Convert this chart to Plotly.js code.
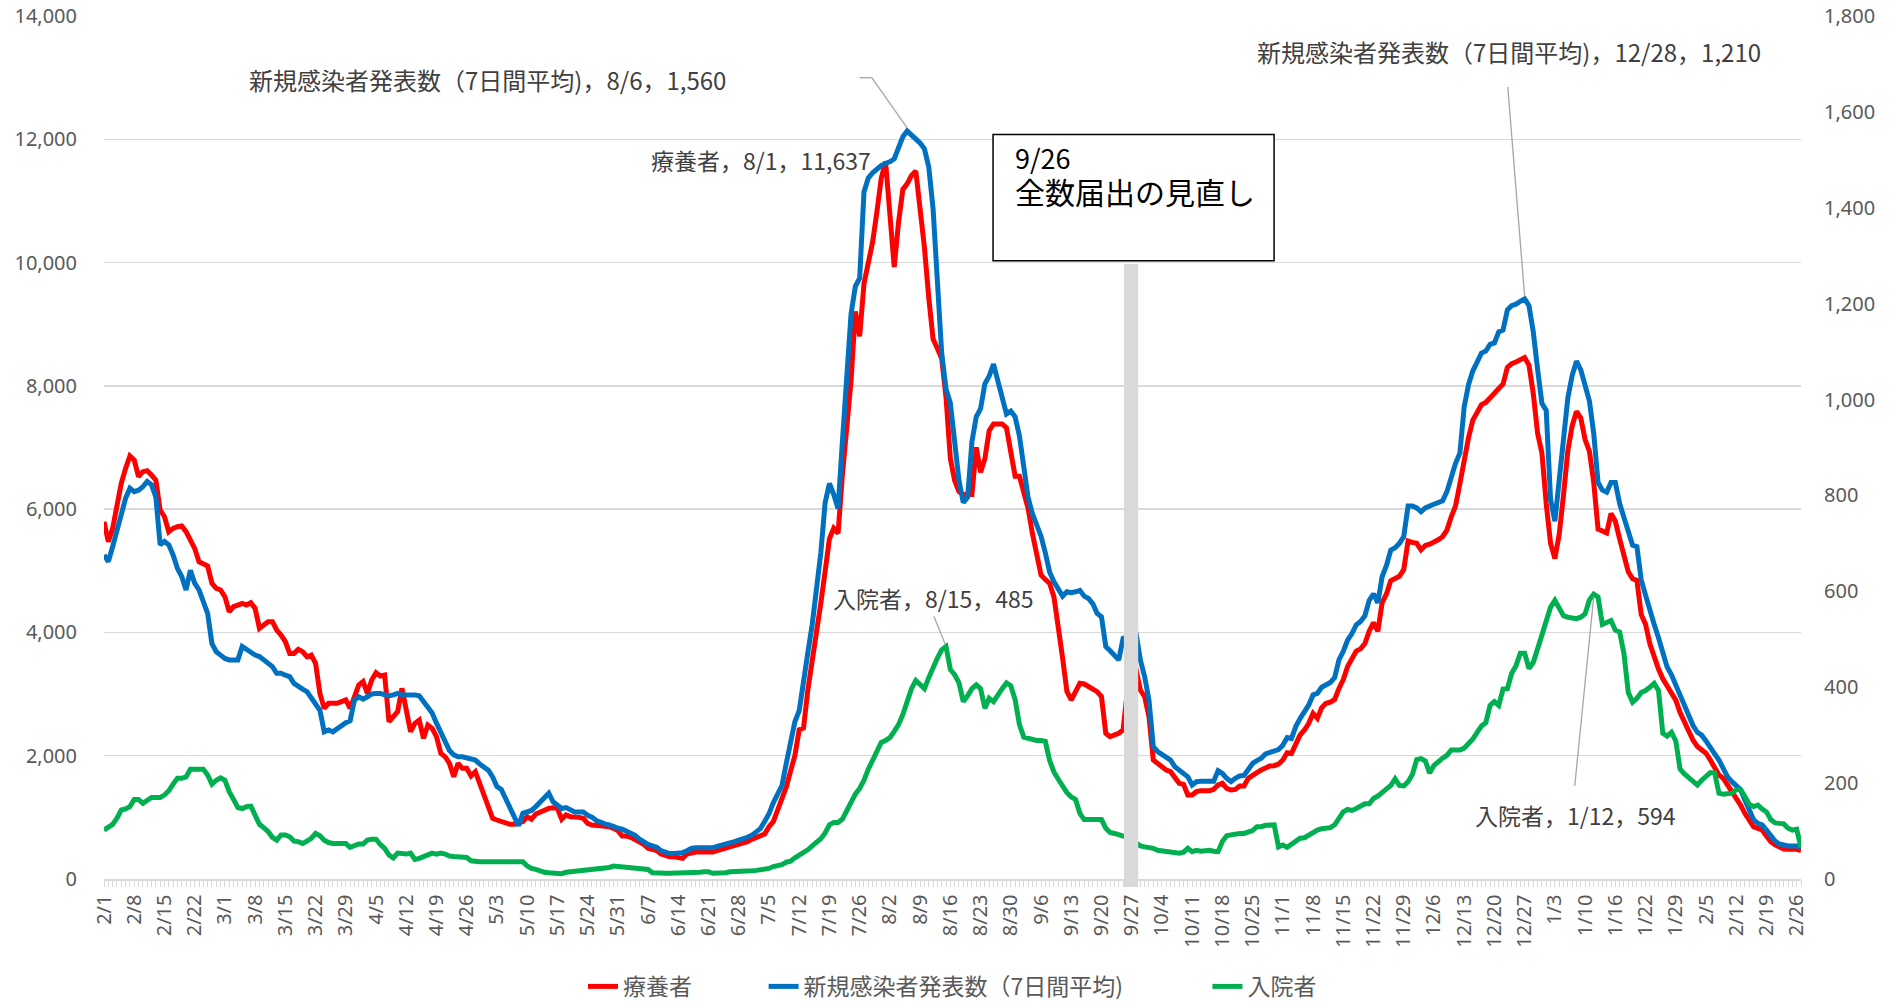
<!DOCTYPE html>
<html><head><meta charset="utf-8">
<script src="https://cdn.plot.ly/plotly-3.0.1.min.js"></script>
<style>html,body{margin:0;padding:0;background:#fff}#chart{width:1902px;height:1004px}</style>
</head><body><div id="chart"></div>
<script>
// X tick labels (every 7th category)
const tickLabels = ["2/1","2/8","2/15","2/22","3/1","3/8","3/15","3/22","3/29","4/5","4/12","4/19","4/26","5/3","5/10","5/17","5/24","5/31","6/7","6/14","6/21","6/28","7/5","7/12","7/19","7/26","8/2","8/9","8/16","8/23","8/30","9/6","9/13","9/20","9/27","10/4","10/11","10/18","10/25","11/1","11/8","11/15","11/22","11/29","12/6","12/13","12/20","12/27","1/3","1/10","1/16","1/22","1/29","2/5","2/12","2/19","2/26"];

// 療養者 (left axis)
const ryoyosha = [
5796,5472,5688,6040,6418,6661,6862,6797,6526,6607,
6624,6553,6472,5986,5877,5634,5688,5715,5726,5634,
5499,5364,5147,5120,5077,4796,4715,4688,4580,4336,
4417,4444,4472,4444,4482,4390,4066,4120,4174,4174,
4039,3958,3850,3660,3660,3725,3688,3606,3633,3498,
3012,2768,2850,2850,2850,2877,2904,2768,2985,3147,
3201,3012,3228,3347,3293,3309,2552,2633,2714,3093,
2768,2390,2525,2579,2282,2498,2444,2309,2038,1984,
1876,1660,1876,1795,1795,1671,1741,1552,1363,1146,
984,957,930,914,887,887,914,930,1011,968,
1054,1092,1119,1146,1157,1146,968,1038,1011,1011,
1000,984,903,876,876,862,855,849,822,784,
697,697,676,643,606,562,497,470,460,406,
373,362,362,346,335,406,427,438,443,443,
443,438,460,481,508,524,552,568,579,606,
643,676,697,730,849,930,1119,1280,1490,1750,
2005,2420,2450,3070,3510,3990,4470,4990,5520,5690,
5608,6553,7318,8083,9208,8803,9658,9973,10333,10828,
11368,11637,10783,9928,10648,11188,11278,11413,11485,10873,
10243,9433,8758,8605,8443,7813,6823,6463,6283,6238,
6238,6238,7003,6598,6823,7273,7381,7381,7381,7318,
6958,6535,6535,6283,6013,5608,5248,4932,4860,4797,
4572,4122,3582,3042,2904,3039,3174,3163,3120,3077,
3039,2958,2363,2309,2336,2363,2417,3000,3700,3400,
3066,2958,2633,1930,1876,1822,1768,1741,1633,1552,
1536,1363,1363,1417,1433,1433,1433,1454,1525,1552,
1471,1444,1454,1509,1509,1633,1687,1725,1768,1811,
1833,1838,1865,1930,2049,2038,2201,2336,2417,2525,
2687,2606,2780,2850,2870,2912,3091,3234,3448,3555,
3697,3733,3819,4019,4161,4019,4483,4625,4840,4875,
4911,5018,5482,5461,5446,5339,5411,5432,5461,5503,
5553,5660,5875,6053,6410,6838,7159,7445,7552,7695,
7730,7802,7873,7944,8030,8301,8359,8387,8430,8459,
8337,7873,7231,6910,6089,5446,5197,5589,6231,6945,
7350,7585,7480,7128,6939,6433,5677,5645,5614,5929,
5803,5519,5267,4983,4870,4845,4289,4132,3816,3595,
3406,3248,3122,2996,2901,2700,2540,2400,2250,2150,
2090,2040,1930,1800,1687,1633,1525,1444,1336,1200,
1065,941,849,822,795,698,606,552,509,487,
481,481,481,460];

// 新規感染者発表数（7日間平均) (right axis)
const shinki = [
676,662,693,728,756,794,815,808,811,818,
829,822,797,697,704,697,676,648,631,603,
644,617,603,578,554,491,474,467,460,457,
457,457,485,478,471,467,464,457,450,443,
429,429,425,422,408,401,396,391,377,366,
352,307,311,307,314,321,326,330,373,380,
375,380,386,387,387,384,382,384,387,384,
384,386,384,382,370,356,346,325,305,286,
268,259,255,255,252,250,248,240,233,227,
213,193,187,168,144,124,111,137,140,143,
151,161,170,179,161,154,147,149,143,140,
140,140,133,129,122,118,115,113,109,106,
104,99,94,91,83,76,72,69,66,59,
56,53,53,53,55,59,64,65,65,65,
65,65,68,70,72,74,78,81,83,87,
91,97,105,120,136,159,180,195,241,287,
328,351,420,472,530,599,680,785,825,802,
773,912,1051,1178,1236,1253,1433,1462,1473,1481,
1488,1493,1496,1502,1525,1548,1560,1552,1543,1535,
1523,1485,1398,1248,1097,1022,993,912,831,785,
796,912,964,981,1033,1049,1074,1039,1005,970,
976,964,924,866,796,762,738,715,680,640,
620,605,590,599,597,599,602,590,585,574,
554,547,485,476,467,457,502,505,515,512,
457,422,373,276,266,259,254,248,234,227,
222,213,196,203,204,204,204,204,226,220,
210,203,210,215,216,231,241,247,252,261,
264,268,270,279,295,293,318,335,349,363,
384,387,400,406,410,420,457,475,498,512,
530,537,549,581,595,576,631,654,686,691,
700,714,778,778,774,766,774,778,781,785,
789,808,842,867,888,985,1031,1060,1078,1097,
1101,1115,1118,1141,1145,1187,1196,1199,1205,1210,
1196,1141,1063,992,977,792,746,829,902,1003,
1050,1080,1062,1030,997,929,827,811,807,827,
827,783,754,722,696,693,624,592,559,531,
503,470,442,426,405,381,361,341,320,306,
300,288,272,261,248,231,213,203,196,186,
165,144,124,116,113,102,90,79,73,70,
69,69,69,66];

// 入院者 (right axis)
const nyuin = [
102,107,114,127,144,146,151,166,166,158,
165,170,170,170,175,184,198,210,210,213,
229,229,229,229,217,198,206,211,206,182,
166,149,147,151,152,133,114,107,99,87,
81,92,92,88,79,78,74,79,85,95,
90,81,76,74,74,74,74,66,69,73,
73,81,83,83,72,64,50,44,54,52,
52,54,41,43,47,50,54,52,54,52,
48,47,47,47,45,38,36,36,36,36,
36,36,36,36,36,36,36,36,27,22,
20,16,14,13,12,11,11,14,15,15,
15,17,19,19,20,21,23,24,27,26,
24,24,24,23,22,21,20,13,12,12,
12,12,12,12,12,12,13,13,14,15,
15,12,12,12,13,15,15,16,16,17,
17,18,19,19,22,26,28,30,35,37,
44,49,56,61,69,76,84,96,113,118,
118,125,142,162,177,189,206,229,247,266,
285,289,295,308,322,343,370,397,414,407,
397,420,443,461,478,485,437,426,409,370,
382,397,405,397,356,377,370,385,397,409,
403,374,322,296,293,290,289,289,287,247,
223,208,194,180,171,166,137,124,124,124,
124,124,106,97,95,92,90,87,81,74,
69,67,66,64,60,59,58,56,54,54,
56,64,57,60,58,59,60,58,57,78,
90,92,94,95,95,98,101,109,109,112,
113,113,67,71,66,73,81,85,86,92,
99,102,105,106,107,113,127,140,145,143,
147,151,157,157,168,173,182,188,195,209,
195,194,203,218,249,251,246,221,237,246,
252,258,269,269,269,273,282,292,306,319,
326,362,370,362,396,397,429,445,471,471,
439,452,480,512,544,567,581,567,549,546,
545,543,546,553,582,594,588,531,535,539,
519,515,470,389,369,377,389,393,400,408,
393,304,298,306,288,229,219,212,203,196,
206,215,222,221,179,177,179,179,186,187,
172,156,151,154,146,140,124,117,116,115,
106,102,104,66];

const seriesNames = ["療養者", "新規感染者発表数（7日間平均)", "入院者"];
const seriesColors = ["#ff0000", "#0070c0", "#00b050"];
// extra legend spacing (ideographic / no-break spaces) to match the original legend gaps
const legendPad = ["\u3000\u3000\u00a0\u00a0\u00a0\u00a0", "\u3000\u3000\u3000\u00a0\u00a0", ""];

const xIdx = ryoyosha.map((_, i) => i);
const tickVals = tickLabels.map((_, k) => k * 7);
const lastIdx = ryoyosha.length - 1;

const JP = "Noto Sans CJK JP";
const NUM = "Noto Sans";

const seriesData = [ryoyosha, shinki, nyuin];
const seriesAxis = ["y", "y2", "y2"];
const traces = seriesData.map((d, k) => ({
  x: xIdx, y: d, name: seriesNames[k] + legendPad[k], type: "scatter", mode: "lines",
  line: {color: seriesColors[k], width: 5}, yaxis: seriesAxis[k]
}));

// right-axis value -> left-axis coordinate
const r2l = v => v * 14000 / 1800;

const annFont = {family: JP, size: 23, color: "#404040"};
const annFontL = {family: JP, size: 24, color: "#404040"};
const annotations = [
  {xref: "x", yref: "y", x: 144.4, y: 12978, xanchor: "right", yanchor: "middle",
   text: "新規感染者発表数（7日間平均)，8/6，1,560", showarrow: false, font: annFontL},
  {xref: "x", yref: "y", x: 178, y: 11664, xanchor: "right", yanchor: "middle",
   text: "療養者，8/1，11,637", showarrow: false, font: annFont},
  {xref: "x", yref: "y", x: 192.2, y: 4558, xanchor: "center", yanchor: "middle",
   text: "入院者，8/15，485", showarrow: false, font: annFont},
  {xref: "x", yref: "y", x: 325.4, y: 13432, xanchor: "center", yanchor: "middle",
   text: "新規感染者発表数（7日間平均)，12/28，1,210", showarrow: false, font: annFontL},
  {xref: "x", yref: "y", x: 340.8, y: 1038, xanchor: "center", yanchor: "middle",
   text: "入院者，1/12，594", showarrow: false, font: annFont},
  {xref: "paper", yref: "paper", x: 0.5357, y: 0.8155, xanchor: "left", yanchor: "middle",
   align: "left", text: "9/26<br><span style=\"font-size:30px\">全数届出の見直し</span>", showarrow: false,
   font: {family: JP, size: 27, color: "#000000"}}
];

const leader = {color: "#a6a6a6", width: 1.3};
const shapes = [
  // notification change bar
  {type: "rect", xref: "x", yref: "paper", x0: 236.2, x1: 239.5, y0: -0.0093, y1: 0.7126,
   fillcolor: "#d9d9d9", line: {width: 0}, layer: "above"},
  // text box
  {type: "rect", xref: "paper", yref: "paper", x0: 0.5239, x1: 0.6895, y0: 0.7163, y1: 0.8626,
   fillcolor: "#ffffff", line: {color: "#000000", width: 1.5}, layer: "above"},
  // leader lines
  {type: "line", xref: "x", yref: "y", x0: 175.0, y0: 12999, x1: 177.8, y1: 12999, line: leader},
  {type: "line", xref: "x", yref: "y", x0: 177.8, y0: 12999, x1: 186, y1: r2l(1560) + 50, line: leader},
  {type: "line", xref: "x", yref: "y", x0: 192.2, y0: 4257, x1: 194.8, y1: r2l(485) + 40, line: leader},
  {type: "line", xref: "x", yref: "y", x0: 325.1, y0: 12848, x1: 329, y1: r2l(1210) + 40, line: leader},
  {type: "line", xref: "x", yref: "y", x0: 345, y0: r2l(594) - 40, x1: 340.6, y1: 1509, line: leader}
];

const tickFont = {family: NUM, size: 20, color: "#595959"};

const layout = {
  width: 1902, height: 1004,
  margin: {l: 104, r: 101, t: 16, b: 125, autoexpand: false},
  paper_bgcolor: "#ffffff", plot_bgcolor: "#ffffff",
  showlegend: true,
  legend: {orientation: "h", x: 0.5, xanchor: "center", y: -0.1245, yanchor: "middle",
           font: {family: JP, size: 23, color: "#595959"}, bgcolor: "rgba(0,0,0,0)"},
  xaxis: {range: [0, lastIdx], tickmode: "array", tickvals: tickVals, ticktext: tickLabels,
          tickangle: -90, tickfont: tickFont, showgrid: false, zeroline: false,
          showline: true, linecolor: "#d9d9d9", linewidth: 1.5,
          ticks: "outside", ticklen: 6, tickcolor: "#d9d9d9", tickwidth: 1,
          minor: {tickmode: "linear", tick0: 0, dtick: 1, ticks: "outside", ticklen: 6,
                  tickcolor: "#d9d9d9", tickwidth: 1, showgrid: false}},
  yaxis: {range: [0, 14000], dtick: 2000, tick0: 0, tickformat: ",d", tickfont: tickFont,
          showgrid: true, gridcolor: "#d9d9d9", gridwidth: 1.5, zeroline: false,
          showline: false, ticks: "", ticklabelstandoff: 26},
  yaxis2: {range: [0, 1800], dtick: 200, tick0: 0, tickformat: ",d", tickfont: tickFont,
           overlaying: "y", side: "right", showgrid: false, zeroline: false,
           showline: false, ticks: "", ticklabelstandoff: 22},
  annotations: annotations,
  shapes: shapes
};

Plotly.newPlot("chart", traces, layout, {staticPlot: true, displayModeBar: false});
</script>
</body></html>
